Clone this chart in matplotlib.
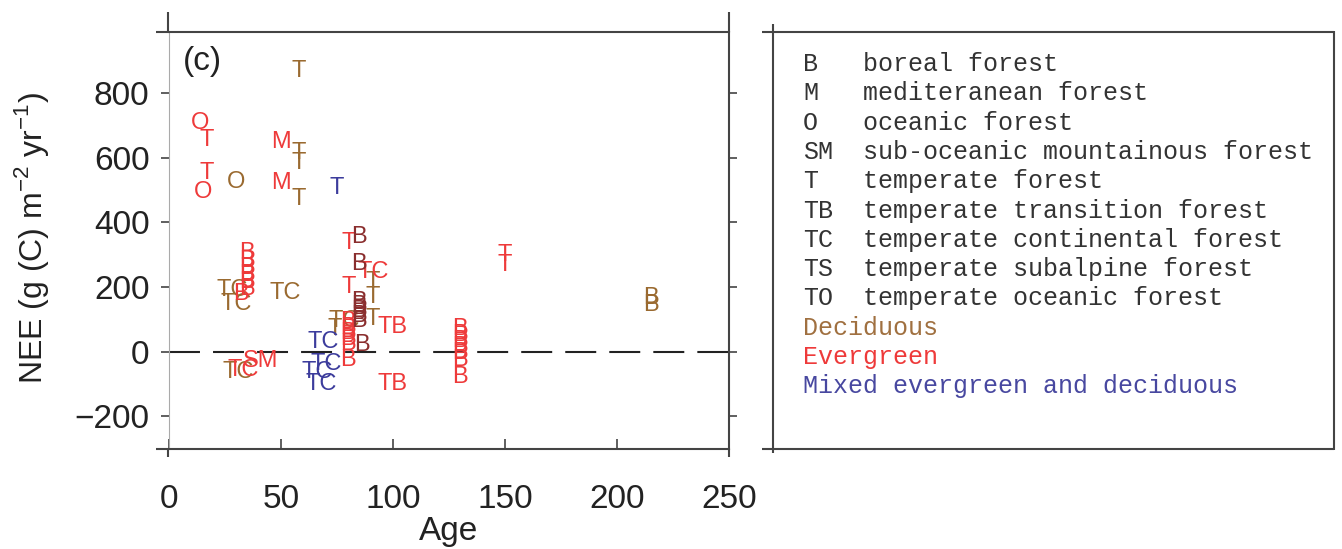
import matplotlib
matplotlib.use("Agg")
import matplotlib.pyplot as plt
from matplotlib.lines import Line2D

W, H = 1342, 549

# text markers: label, age, NEE
dec_labels = ["T", "O", "T", "T", "T", "TC", "TC", "TC", "TC", "T", "T", "T", "TC", "T", "B", "B"]
dec_age = [58, 30, 58, 58, 58, 28, 30, 52, 31, 91, 91, 91, 78, 74, 215, 215]
dec_nee = [870, 524, 615, 583, 474, 190, 148, 180, -62, 214, 168, 102, 96, 71, 165, 145]

eve_labels = ["O", "T", "M", "T", "O", "M",
              "B", "B", "B", "B", "B", "B", "B",
              "SM", "TC", "T", "T", "TC",
              "B", "B", "B", "B", "B", "B",
              "TB", "TB",
              "B", "B", "B", "B", "B", "B", "B",
              "T", "T"]
eve_age = [14, 17, 50, 17, 15, 50,
           35, 35, 35, 35, 35, 35, 32,
           41, 33, 80, 80, 91,
           80, 80, 80, 80, 80, 80,
           100, 100,
           130, 130, 130, 130, 130, 130, 130,
           150, 150]
eve_nee = [707, 654, 648, 552, 493, 521,
           305, 280, 258, 236, 215, 195, 178,
           -28, -58, 335, 199, 245,
           90, 72, 56, 40, 22, -25,
           75, -100,
           70, 52, 34, 14, -5, -25, -80,
           300, 268]

mix_labels = ["T", "TC", "TC", "TC", "TC"]
mix_age = [75, 69, 70, 66, 68]
mix_nee = [508, 30, -38, -62, -100]

bor_labels = ["B", "B", "B", "B", "B", "B", "B", "B"]
bor_age = [85, 85, 85, 85, 85, 85, 85, 86]
bor_nee = [356, 270, 155, 140, 125, 110, 95, 20]

x_ticks = [0, 50, 100, 150, 200, 250]
y_ticks = [-200, 0, 200, 400, 600, 800]

key_codes = ["B", "M", "O", "SM", "T", "TB", "TC", "TS", "TO"]
key_names = ["boreal forest", "mediteranean forest", "oceanic forest",
             "sub-oceanic mountainous forest", "temperate forest",
             "temperate transition forest", "temperate continental forest",
             "temperate subalpine forest", "temperate oceanic forest"]
group_names = ["Deciduous", "Evergreen", "Mixed evergreen and deciduous"]

BROWN = "#9a6a30"
RED = "#ee3a3a"
BLUE = "#3c3c9c"
MAROON = "#8a2e2e"
FRAME = "#444444"

plt.rcParams["font.family"] = ["Liberation Sans", "DejaVu Sans"]
plt.rcParams["lines.scale_dashes"] = False

fig = plt.figure(figsize=(W / 100, H / 100), dpi=100)


def fx(px):
    return px / W


def fy(py):
    return 1 - py / H


def px_line(x0, y0, x1, y1, color=FRAME, lw=1.5):
    fig.add_artist(Line2D([fx(x0), fx(x1)], [fy(y0), fy(y1)],
                          transform=fig.transFigure, color=color, lw=lw,
                          solid_capstyle="butt"))


ax = fig.add_axes([fx(169), fy(449), fx(729) - fx(169), fy(32) - fy(449)])
ax.set_xlim(0, 250)
ax.set_ylim(-302, 990)

for labels, xs, ys, col in [(dec_labels, dec_age, dec_nee, BROWN),
                            (eve_labels, eve_age, eve_nee, RED),
                            (bor_labels, bor_age, bor_nee, MAROON),
                            (mix_labels, mix_age, mix_nee, BLUE)]:
    for lab, x, y in zip(labels, xs, ys):
        ax.text(x, y, lab, color=col, fontsize=17, ha="center", va="center")

ax.plot([0, 250], [0, 0], color="#222222", lw=1.5, dashes=(22.3, 9.4))

ax.set_xticks(x_ticks)
ax.set_yticks(y_ticks)
ax.tick_params(axis="x", direction="in", length=7, width=1.2, color=FRAME,
               labelsize=24, pad=25, labelcolor="#222222")
ax.tick_params(axis="y", direction="out", length=6, width=1.2, color=FRAME,
               labelsize=24, pad=8, right=True, labelcolor="#222222")
for side in ["top", "right", "bottom"]:
    ax.spines[side].set_color(FRAME)
    ax.spines[side].set_linewidth(1.5)
ax.spines["left"].set_color("#aaaaaa")
ax.spines["left"].set_linewidth(0.8)

ax.text(0.025, 0.93, "(c)", transform=ax.transAxes, fontsize=24,
        ha="left", va="center", color="#222222")

ax.set_xlabel("Age", fontsize=24, labelpad=1, color="#222222")
fig.text(fx(32), fy(238), r"NEE (g (C) m$^{\mathregular{-2}}$ yr$^{\mathregular{-1}}$)",
         rotation=90, fontsize=23, ha="center", va="center", color="#222222")

# frame pieces of the neighbouring panels
px_line(156, 32, 169, 32)
px_line(168, 12, 168, 32)
px_line(156, 449, 169, 449)
px_line(168, 449, 168, 457)
px_line(729, 12, 729, 32)
px_line(729, 449, 729, 457)

# key panel
px_line(773, 24, 773, 453)
px_line(762, 32, 1334, 32)
px_line(762, 449, 1334, 449)
px_line(1334, 31, 1334, 450)

row_y = 64
for code, name in zip(key_codes, key_names):
    fig.text(fx(803), fy(row_y), code, family="Liberation Mono", fontsize=18,
             va="center", color="#333333")
    fig.text(fx(863), fy(row_y), name, family="Liberation Mono", fontsize=18,
             va="center", color="#333333")
    row_y += 29.3
for name, col in zip(group_names, ["#a07040", RED, "#4848a0"]):
    fig.text(fx(803), fy(row_y), name, family="Liberation Mono", fontsize=18,
             va="center", color=col)
    row_y += 29.3

fig.savefig("out.png", dpi=100)
